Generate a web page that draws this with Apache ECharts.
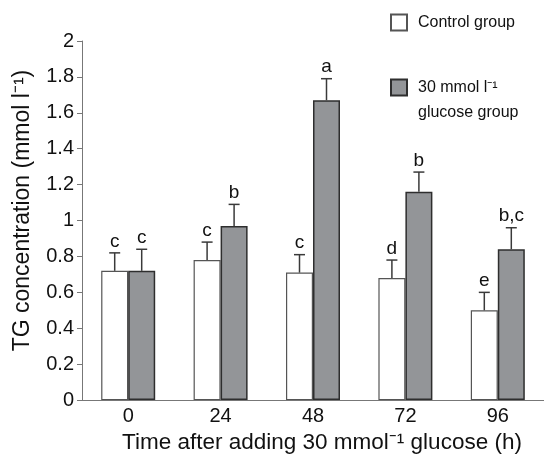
<!DOCTYPE html>
<html>
<head>
<meta charset="utf-8">
<script src="https://cdn.jsdelivr.net/npm/echarts@6/dist/echarts.min.js"></script>
<style>
  html, body { margin: 0; padding: 0; background: #fff; }
  #chart { width: 544px; height: 459px; }
</style>
</head>
<body>
<div id="chart"></div>
<script>
// data
const hours = ["0", "24", "48", "72", "96"];
const controlMean = [0.72, 0.78, 0.71, 0.68, 0.50];
const controlErr = [0.10, 0.10, 0.10, 0.10, 0.10];
const controlSig = ["c", "c", "c", "d", "e"];
const glucoseMean = [0.72, 0.97, 1.67, 1.16, 0.84];
const glucoseErr = [0.12, 0.12, 0.12, 0.11, 0.12];
const glucoseSig = ["c", "b", "a", "b", "b,c"];

const controlName = "Control group";
const glucoseName = "30 mmol l\u207b\u00b9\nglucose group";

const barW = 27;
const font = "Liberation Sans, Arial, sans-serif";

// error bar + significance letter, shifted onto its bar
const errorSeries = (name, means, errs, sigs, shift) => ({
  name: name + " err",
  type: "custom",
  z: 5,
  data: means.map((m, i) => [i, m, errs[i]]),
  renderItem: (params, api) => {
    let base = api.coord([api.value(0), api.value(1)]);
    let top = api.coord([api.value(0), api.value(1) + api.value(2)]);
    let x = base[0] + shift;
    let sig = sigs[params.dataIndex];
    let st = { stroke: "#3a3a3a", lineWidth: 1.5 };
    return {
      type: "group",
      children: [
        { type: "line", shape: { x1: x, y1: base[1], x2: x, y2: top[1] }, style: st },
        { type: "line", shape: { x1: x - 5.5, y1: top[1], x2: x + 5.5, y2: top[1] }, style: st },
        {
          type: "text",
          style: {
            x: x, y: top[1] - 2, text: sig, fill: "#111",
            font: "19px " + font, align: "center", verticalAlign: "bottom",
          },
        },
      ],
    };
  },
});

let myChart = echarts.init(document.getElementById("chart"), null, { renderer: "canvas" });
let option = {
  animation: false,
  textStyle: { fontFamily: font },
  grid: { left: 82, right: -8, top: 41, bottom: 56 },
  legend: {
    orient: "vertical",
    left: 390,
    top: 10,
    padding: 0,
    itemGap: 15,
    itemWidth: 16,
    itemHeight: 16,
    icon: "rect",
    data: [controlName, glucoseName],
    // leading blank line keeps the box level with the first text line
    formatter: (name) => (name === glucoseName ? "\n" + name : name),
    textStyle: { fontSize: 16, color: "#111", lineHeight: 25, padding: [0, 0, 0, 6] },
  },
  xAxis: {
    type: "category",
    data: hours,
    name: "Time after adding 30 mmol\u207b\u00b9 glucose (h)",
    nameLocation: "middle",
    nameGap: 24,
    nameTextStyle: { fontSize: 22.5, color: "#111", padding: [0, 0, 0, 18] },
    axisLine: { lineStyle: { color: "#777", width: 1 } },
    axisTick: { inside: true, length: 5, lineStyle: { color: "#777" } },
    axisLabel: { fontSize: 20, color: "#111", margin: 6 },
  },
  yAxis: {
    type: "value",
    min: 0,
    max: 2,
    interval: 0.2,
    name: "TG concentration (mmol l\u207b\u00b9)",
    nameLocation: "middle",
    nameGap: 48,
    nameTextStyle: { fontSize: 23, color: "#111", padding: [0, 0, 0, 20] },
    splitLine: { show: false },
    axisLine: { show: true, lineStyle: { color: "#777", width: 1 } },
    axisTick: { show: true, length: 5, lineStyle: { color: "#777" } },
    axisLabel: { fontSize: 20, color: "#111", margin: 8 },
  },
  series: [
    {
      name: controlName,
      type: "bar",
      barWidth: barW,
      barGap: "0%",
      data: controlMean,
      itemStyle: { color: "#ffffff", borderColor: "#555", borderWidth: 1.2 },
    },
    {
      name: glucoseName,
      type: "bar",
      barWidth: barW,
      barGap: "0%",
      data: glucoseMean,
      itemStyle: { color: "#939598", borderColor: "#2e2e2e", borderWidth: 1.5 },
    },
    errorSeries("control", controlMean, controlErr, controlSig, -barW / 2),
    errorSeries("glucose", glucoseMean, glucoseErr, glucoseSig, barW / 2),
  ],
};
myChart.setOption(option);
</script>
</body>
</html>
